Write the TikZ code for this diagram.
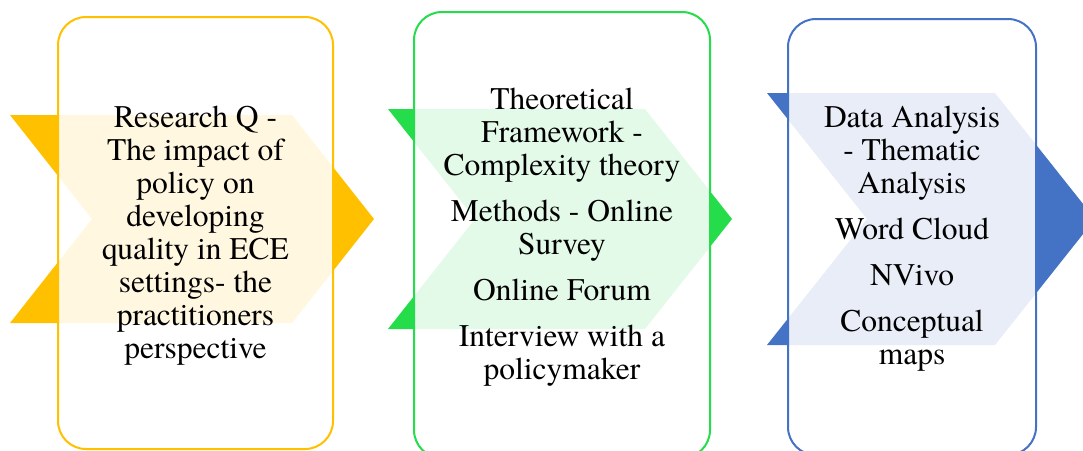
\documentclass[tikz,border=0pt]{standalone}
\usepackage{fontspec}
\newfontfamily\timesface{TeX Gyre Termes}
\definecolor{gold}{HTML}{FFC000}
\definecolor{leaf}{HTML}{25DD4B}
\definecolor{steel}{HTML}{4472C4}

\tikzset{
  panel/.style={draw=#1, line width=2pt, rounded corners=28pt, fill=white,
                fill opacity=0.88, rectangle, inner sep=0pt},
  chev/.style={fill=#1, draw=none},
  label/.style={align=center, font=\timesface\fontsize{31.5}{33}\selectfont,
                text=black, inner sep=0pt}
}

\begin{document}
\begin{tikzpicture}[x=1pt, y=-1pt]
  \useasboundingbox (0,0) rectangle (1083,450);
  \clip (0,0) rectangle (1083,450);

  % chevron arrows running behind the panels
  \path[chev=gold]  (10,115) -- (292,115) -- (374,219) -- (292,323) -- (10,323) -- (92,219) -- cycle;
  \path[chev=leaf]  (388,109) -- (645,109) -- (732,219) -- (645,329) -- (388,329) -- (475,219) -- cycle;
  \path[chev=steel] (767,93) -- (995,93) -- (1095,219) -- (995,345) -- (767,345) -- (867,219) -- cycle;

  % translucent rounded panels
  \node[panel=gold,  minimum width=275pt, minimum height=432pt] (p1) at (195.5,233) {};
  \node[panel=leaf,  minimum width=296pt, minimum height=446pt] (p2) at (562,235) {};
  \node[panel=steel, minimum width=248pt, minimum height=436pt] (p3) at (912,237) {};

  % panel texts
  \node[label] (t1) at (195.5,236) {Research Q -\\The impact of\\policy on\\developing\\quality in ECE\\settings- the\\practitioners\\perspective};
  \node[label] (t2) at (562,237) {Theoretical\\Framework -\\Complexity theory\\[13pt]Methods - Online\\Survey\\[13pt]Online Forum\\[13pt]Interview with a\\policymaker};
  \node[label] (t3) at (912,239) {Data Analysis\\- Thematic\\Analysis\\[13pt]Word Cloud\\[13pt]NVivo\\[13pt]Conceptual\\maps};
\end{tikzpicture}
\end{document}
